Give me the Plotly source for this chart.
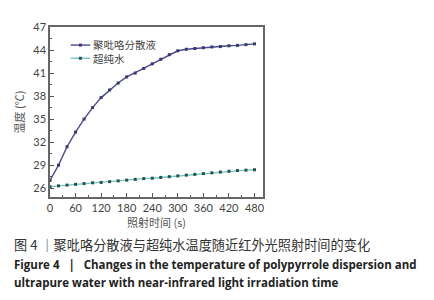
import plotly.graph_objects as go

time_s = [0, 20, 40, 60, 80, 100, 120, 140, 160, 180, 200, 220, 240,
          260, 280, 300, 320, 340, 360, 380, 400, 420, 440, 460, 480]
ppy_temp = [27.0, 29.0, 31.4, 33.3, 35.0, 36.5, 37.8, 38.8, 39.7, 40.5, 41.0, 41.6, 42.2,
            42.8, 43.4, 43.9, 44.1, 44.2, 44.3, 44.4, 44.45, 44.55, 44.6, 44.7, 44.8]
water_temp = [26.2, 26.3, 26.4, 26.5, 26.6, 26.7, 26.75, 26.85, 26.95, 27.05, 27.15, 27.25, 27.3,
              27.4, 27.5, 27.6, 27.7, 27.8, 27.9, 28.0, 28.1, 28.2, 28.3, 28.35, 28.4]
x_ticks = [0, 60, 120, 180, 240, 300, 360, 420, 480]
y_ticks = [26, 29, 32, 35, 38, 41, 44, 47]
series_names = ["聚吡咯分散液", "超纯水"]
x_title = "照射时间 (s)"
y_title = "温度 (℃)"
caption_cn = "图 4 ｜聚吡咯分散液与超纯水温度随近红外光照射时间的变化"
caption_en1 = "Figure 4   |   Changes in the temperature of polypyrrole dispersion and"
caption_en2 = "ultrapure water with near-infrared light irradiation time"

line_colors = ["#4a4a94", "#6cc8c8"]
marker_colors = ["#3a3a6a", "#2f4f4f"]

# page body has an 8px margin; figure is offset by (8, 8) in the window
OFF = 8
PL, PT, PW, PH = 46, 23, 217, 174  # plot area in window pixels

fig = go.Figure()
for name, ys, lc, mc in zip(series_names, [ppy_temp, water_temp], line_colors, marker_colors):
    fig.add_trace(go.Scatter(
        x=time_s, y=ys, name=name, mode="lines+markers",
        line=dict(color=lc, width=1.4),
        marker=dict(color=mc, size=3, symbol="square"),
        showlegend=False))

axis_common = dict(showline=True, linecolor="#666", linewidth=1.5, mirror=True,
                   ticks="inside", ticklen=4, tickcolor="#555", showgrid=False,
                   zeroline=False, tickfont=dict(family="Lato, Open Sans, sans-serif", size=11, color="#444"))

fig.update_xaxes(range=[0, 500], tickvals=x_ticks, ticktext=[str(v) for v in x_ticks],
                 minor=dict(dtick=30, ticks="inside", ticklen=2, tickcolor="#555"),
                 title=dict(text=x_title, font=dict(family="Noto Sans CJK SC", size=11, color="#555"), standoff=4),
                 **axis_common)
fig.update_yaxes(range=[24.85, 47], tickvals=y_ticks, ticktext=[str(v) for v in y_ticks],
                 minor=dict(tickvals=[27.5, 30.5, 33.5, 36.5, 39.5, 42.5, 45.5], ticks="inside", ticklen=2, tickcolor="#555"),
                 title=dict(text=y_title, font=dict(family="Noto Sans CJK SC", size=11, color="#555"), standoff=6),
                 **axis_common)

def py2paper(py):
    return (PT + PH - py) / PH

def px2paper(px):
    return (px - PL) / PW

# manual compact legend: sample lines + one two-line text block
legend_rows = [41.5, 55]
for row, lc, mc in zip(legend_rows, line_colors, marker_colors):
    fig.add_shape(type="line", xref="paper", yref="paper",
                  x0=px2paper(67), x1=px2paper(87), y0=py2paper(row), y1=py2paper(row),
                  line=dict(color=lc, width=1.4))
    fig.add_shape(type="rect", xref="paper", yref="paper",
                  x0=px2paper(75.5), x1=px2paper(78.5), y0=py2paper(row + 1.5), y1=py2paper(row - 1.5),
                  line=dict(width=0), fillcolor=mc)
fig.add_annotation(xref="paper", yref="paper", x=px2paper(88), y=py2paper(sum(legend_rows) / 2),
                   xanchor="left", yanchor="middle", align="left", showarrow=False,
                   text="<br>".join(series_names),
                   font=dict(family="Noto Sans CJK SC", size=10.5, color="#444"))

anns = [
    dict(text=caption_cn, x=px2paper(7), y=py2paper(246),
         font=dict(family="Noto Sans CJK SC", size=13.2, color="#333")),
    dict(text="<b>" + caption_en1 + "</b>", x=px2paper(7), y=py2paper(266),
         font=dict(family="Open Sans", size=11.5, color="#222")),
    dict(text="<b>" + caption_en2 + "</b>", x=px2paper(7), y=py2paper(285),
         font=dict(family="Open Sans", size=11.5, color="#222")),
]
for a in anns:
    fig.add_annotation(xref="paper", yref="paper", xanchor="left", yanchor="middle",
                       showarrow=False, **a)

W, H = 434 - OFF, 300 - OFF
fig.update_layout(
    width=W, height=H,
    margin=dict(l=PL - OFF, r=W - (PL - OFF) - PW, t=PT - OFF, b=H - (PT - OFF) - PH),
    paper_bgcolor="white", plot_bgcolor="white",
    showlegend=False,
)

fig.write_html("out.html")
